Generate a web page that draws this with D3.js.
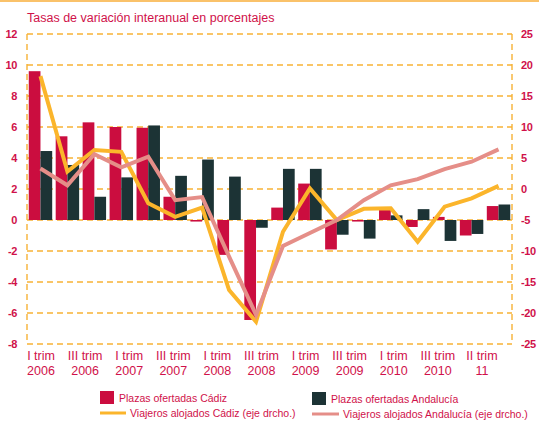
<!DOCTYPE html>
<html>
<head>
<meta charset="utf-8">
<script src="https://cdn.jsdelivr.net/npm/d3@7"></script>
<style>
  body { margin: 0; background: #fff; }
  svg { display: block; font-family: "Liberation Sans", Arial, sans-serif; }
</style>
</head>
<body>
<svg width="539" height="422"></svg>
<script>
// quarterly year-on-year rates, I trim 2006 onwards
const quarters = d3.range(18);
const plazasCadiz = [9.6, 5.4, 6.3, 6.0, 5.95, 1.5, -0.1, -2.25, -6.45, 0.8, 2.35, -1.9, -0.1, 0.8, -0.45, 0.2, -1.0, 0.9];
const plazasAndalucia = [4.45, 3.55, 1.5, 2.75, 6.1, 2.85, 3.9, 2.8, -0.5, 3.3, 3.3, -0.95, -1.2, 0.3, 0.7, -1.35, -0.9, 1.0];
const viajerosCadiz = [18.2, 2.8, 6.3, 6.0, -2.3, -4.5, -3.0, -16.3, -21.4, -6.9, 0.1, -5.0, -3.2, -3.1, -8.5, -2.85, -1.5, 0.5];
const viajerosAndalucia = [3.3, 0.6, 5.6, 3.5, 5.2, -1.8, -1.3, -10.9, -20.3, -9.2, -7.1, -5.0, -1.8, 0.6, 1.6, 3.2, 4.4, 6.4];

const tickLabels = [
  ["I trim", "2006"], ["III trim", "2006"], ["I trim", "2007"], ["III trim", "2007"],
  ["I trim", "2008"], ["III trim", "2008"], ["I trim", "2009"], ["III trim", "2009"],
  ["I trim", "2010"], ["III trim", "2010"], ["II trim", "11"]
];
const leftTicks = d3.range(-8, 13, 2);
const rightTicks = d3.range(-25, 26, 5);

const RED = "#CB0D3F";
const DARK = "#1C3335";
const YELLOW = "#FBB52B";
const SALMON = "#E58E88";
const GRID = "#F7B236";
const TEXT = "#D0114A";

const svg = d3.select("svg");
const M = { left: 27, right: 27, top: 34, bottom: 78 };
const W = 539 - M.left - M.right;
const H = 422 - M.top - M.bottom;

// top border
svg.append("rect").attr("x", 0).attr("y", 0).attr("width", 539).attr("height", 2).attr("fill", "#FAC26A");

svg.append("text")
  .attr("x", M.left).attr("y", 22)
  .attr("fill", TEXT).attr("font-size", 12.5)
  .text("Tasas de variación interanual en porcentajes");

const x = d3.scaleBand().domain(quarters).range([M.left, M.left + W])
  .paddingInner(0.13).paddingOuter(0.065);
const sub = d3.scaleBand().domain(["c", "a"]).range([0, x.bandwidth()]);
const y = d3.scaleLinear().domain([-8, 12]).range([M.top + H, M.top]);
const y2 = d3.scaleLinear().domain([-25, 25]).range([M.top + H, M.top]);

const g = svg.append("g");

// gridlines
g.selectAll(".grid").data(leftTicks).join("line")
  .attr("x1", M.left).attr("x2", M.left + W)
  .attr("y1", d => y(d)).attr("y2", d => y(d))
  .attr("stroke", GRID).attr("stroke-width", 1.4).attr("stroke-dasharray", "6,4");

// vertical axis lines
[M.left, M.left + W].forEach(px => {
  g.append("line").attr("x1", px).attr("x2", px).attr("y1", M.top).attr("y2", M.top + H)
    .attr("stroke", GRID).attr("stroke-width", 1.4).attr("stroke-dasharray", "6,4");
});

// bars
const bars = g.append("g");
bars.selectAll(".c").data(plazasCadiz).join("rect")
  .attr("x", (d, i) => x(i) + sub("c"))
  .attr("width", sub.bandwidth())
  .attr("y", d => y(Math.max(0, d)))
  .attr("height", d => Math.abs(y(d) - y(0)))
  .attr("fill", RED);
bars.selectAll(".a").data(plazasAndalucia).join("rect")
  .attr("x", (d, i) => x(i) + sub("a"))
  .attr("width", sub.bandwidth())
  .attr("y", d => y(Math.max(0, d)))
  .attr("height", d => Math.abs(y(d) - y(0)))
  .attr("fill", DARK);

// lines on right axis
const line = d3.line()
  .x((d, i) => x(i) + x.bandwidth() / 2)
  .y(d => y2(d));
g.append("path").datum(viajerosCadiz).attr("d", line)
  .attr("fill", "none").attr("stroke", YELLOW).attr("stroke-width", 4).attr("stroke-linejoin", "miter");
g.append("path").datum(viajerosAndalucia).attr("d", line)
  .attr("fill", "none").attr("stroke", SALMON).attr("stroke-width", 4).attr("stroke-linejoin", "miter");

// axis labels
const tickFont = { size: 11, weight: "bold" };
svg.append("g").selectAll("text").data(leftTicks).join("text")
  .attr("x", 17).attr("y", d => y(d)).attr("dy", "0.35em")
  .attr("text-anchor", "end").attr("fill", TEXT)
  .attr("font-size", tickFont.size).attr("font-weight", tickFont.weight)
  .attr("letter-spacing", -0.4)
  .text(d => d);
svg.append("g").selectAll("text").data(rightTicks).join("text")
  .attr("x", 521).attr("y", d => y2(d)).attr("dy", "0.35em")
  .attr("text-anchor", "start").attr("fill", TEXT)
  .attr("font-size", tickFont.size).attr("font-weight", tickFont.weight)
  .attr("letter-spacing", -0.4)
  .text(d => d);

// category labels every second slot
const xl = d3.scaleBand().domain(d3.range(tickLabels.length * 2)).range([M.left + 3, M.left + W + 3]);
const xt = svg.append("g").selectAll("text").data(tickLabels).join("text")
  .attr("fill", TEXT).attr("font-size", 12.5).attr("text-anchor", "middle");
xt.append("tspan").attr("x", (d, i) => xl(i * 2) + xl.bandwidth() / 2).attr("y", 360).text(d => d[0]);
xt.append("tspan").attr("x", (d, i) => xl(i * 2) + xl.bandwidth() / 2).attr("y", 375).text(d => d[1]);

// legend
const legend = [
  { label: "Plazas ofertadas Cádiz", color: RED, type: "rect", x: 100, y: 398 },
  { label: "Plazas ofertadas Andalucía", color: DARK, type: "rect", x: 312, y: 399 },
  { label: "Viajeros alojados Cádiz (eje drcho.)", color: YELLOW, type: "line", x: 100, y: 413, w: 26 },
  { label: "Viajeros alojados Andalucía (eje drcho.)", color: SALMON, type: "line", x: 312, y: 414, w: 27 }
];
const lg = svg.append("g").selectAll("g").data(legend).join("g");
lg.filter(d => d.type === "rect").append("rect")
  .attr("x", d => d.x).attr("y", d => d.y - 7).attr("width", 14).attr("height", 13).attr("fill", d => d.color);
lg.filter(d => d.type === "line").append("line")
  .attr("x1", d => d.x).attr("x2", d => d.x + d.w).attr("y1", d => d.y).attr("y2", d => d.y)
  .attr("stroke", d => d.color).attr("stroke-width", 3);
lg.append("text")
  .attr("x", d => d.x + (d.type === "rect" ? 19 : d.w + 4))
  .attr("y", d => d.y + 4)
  .attr("fill", TEXT).attr("font-size", 10.5)
  .text(d => d.label);
</script>
</body>
</html>
